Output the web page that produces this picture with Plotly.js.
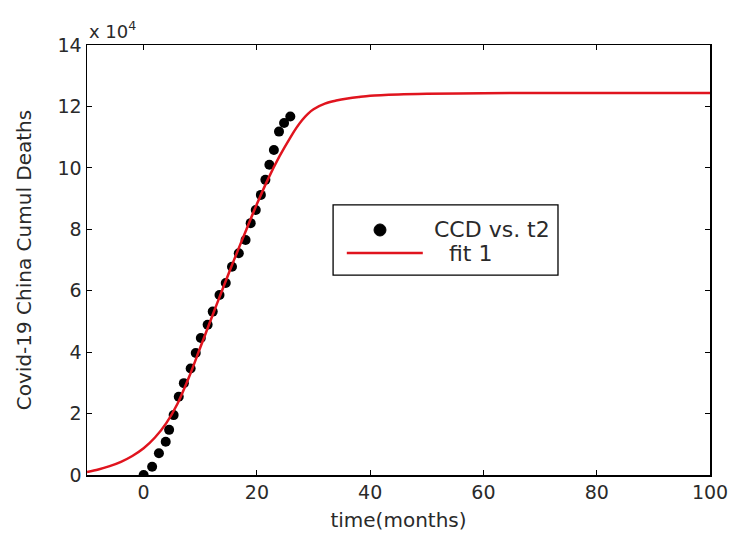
<!DOCTYPE html>
<html>
<head>
<meta charset="utf-8">
<script src="https://cdn.plot.ly/plotly-3.0.1.min.js"></script>
<style>html,body{margin:0;padding:0;background:#fff;}#chart{width:734px;height:540px;}</style>
</head>
<body>
<div id="chart"></div>
<script>
// Observed data: CCD vs. t2
const dataT = [0, 1.5, 2.7, 3.9, 4.5, 5.3, 6.2, 7.1, 8.3, 9.2, 10.1, 11.3, 12.2, 13.4, 14.5, 15.6, 16.8, 18.0, 18.9, 19.8, 20.7, 21.5, 22.2, 23.0, 23.9, 24.8, 25.9];
const dataCCD = [0, 2700, 7100, 10800, 14700, 19500, 25500, 29900, 34700, 39700, 44600, 48900, 53200, 58600, 62500, 67800, 72200, 76500, 82000, 86300, 91200, 96100, 101000, 105800, 111800, 114600, 116700];
// Fitted curve: fit 1
const fitT = [-10, -8, -6, -4, -2, 0, 2, 4, 6, 8, 10, 12, 14, 16, 18, 20, 22, 24, 26, 27, 28, 29, 30, 32, 34, 36, 38, 40, 45, 50, 60, 70, 80, 90, 100];
const fitY = [1000, 1800, 2900, 4300, 6200, 8700, 12200, 16900, 23300, 31800, 41500, 51200, 60800, 70200, 79300, 88200, 96500, 103800, 110200, 113100, 115600, 117600, 119100, 120900, 121900, 122600, 123100, 123500, 123900, 124100, 124300, 124400, 124400, 124400, 124400];
// Axis ticks
const xTicks = [0, 20, 40, 60, 80, 100];
const yTickVals = [0, 20000, 40000, 60000, 80000, 100000, 120000, 140000];
const yTickText = ['0', '2', '4', '6', '8', '10', '12', '14'];
// Legend labels
const legendLabels = ['CCD vs. t2', 'fit 1'];

const fontFam = 'DejaVu Sans, Liberation Sans, sans-serif';
const txtCol = '#2a2a2a';
const redCol = '#e0141e';

const traces = [
  {x: dataT, y: dataCCD, type: 'scatter', mode: 'markers', name: legendLabels[0],
   marker: {color: '#000', size: 10, symbol: 'circle'}},
  {x: fitT, y: fitY, type: 'scatter', mode: 'lines', name: legendLabels[1],
   line: {color: redCol, width: 2.5, shape: 'spline', smoothing: 0.9}}
];

const axisCommon = {
  showgrid: false, zeroline: false, showline: true, mirror: 'allticks',
  linecolor: '#000', linewidth: 1.5, ticks: 'inside', ticklen: 5, tickcolor: '#000',
  tickfont: {family: fontFam, size: 19, color: txtCol}
};

// custom legend box (paper coords)
const lg = {x0: 0.395, x1: 0.756, y0: 0.465, y1: 0.628};
const layout = {
  width: 734, height: 540,
  margin: {l: 87, r: 24, t: 45, b: 65},
  paper_bgcolor: '#fff', plot_bgcolor: '#fff',
  showlegend: false,
  xaxis: Object.assign({}, axisCommon, {
    range: [-10, 100], tickvals: xTicks,
    title: {text: 'time(months)', font: {family: fontFam, size: 20, color: txtCol}, standoff: 10}
  }),
  yaxis: Object.assign({}, axisCommon, {
    range: [0, 140000], tickvals: yTickVals, ticktext: yTickText,
    title: {text: 'Covid-19 China Cumul Deaths', font: {family: fontFam, size: 20, color: txtCol}, standoff: 20}
  }),
  shapes: [
    {type: 'rect', xref: 'paper', yref: 'paper', x0: lg.x0, x1: lg.x1, y0: lg.y0, y1: lg.y1,
     line: {color: '#000', width: 1.3}, fillcolor: '#fff', layer: 'above'},
    {type: 'line', xref: 'paper', yref: 'paper', x0: 0.417, x1: 0.539, y0: 0.516, y1: 0.516,
     line: {color: redCol, width: 2.5}, layer: 'above'},
    {type: 'circle', xref: 'paper', yref: 'paper', x0: 0.4703 - 0.0096, x1: 0.4703 + 0.0096,
     y0: 0.5698 - 0.0140, y1: 0.5698 + 0.0140, fillcolor: '#000', line: {color: '#000', width: 1}, layer: 'above'}
  ],
  annotations: [
    {xref: 'paper', yref: 'paper', x: 0, y: 1, xanchor: 'left', yanchor: 'bottom', yshift: 1,
     text: 'x 10<sup>4</sup>', showarrow: false,
     font: {family: fontFam, size: 18, color: txtCol}},
    {xref: 'paper', yref: 'paper', x: 0.5538, y: 0.5698, xanchor: 'left', yanchor: 'middle',
     text: legendLabels[0], showarrow: false, font: {family: fontFam, size: 22, color: txtCol}},
    {xref: 'paper', yref: 'paper', x: 0.5778, y: 0.516, xanchor: 'left', yanchor: 'middle',
     text: legendLabels[1], showarrow: false, font: {family: fontFam, size: 22, color: txtCol}}
  ]
};

Plotly.newPlot('chart', traces, layout, {displayModeBar: false, staticPlot: true});
</script>
</body>
</html>
